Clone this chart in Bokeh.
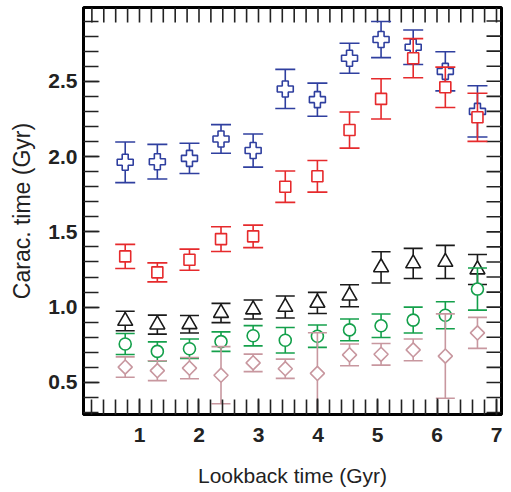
import numpy as np
from bokeh.plotting import figure
from bokeh.models import LinearAxis, SingleIntervalTicker, Range1d, PrintfTickFormatter
from bokeh.embed import file_html
from bokeh.resources import INLINE

# ---- data ----
lookback = [0.76, 1.30, 1.84, 2.37, 2.91, 3.45, 3.99, 4.53, 5.06, 5.60, 6.14, 6.68]

blue_y = [1.962, 1.966, 1.988, 2.117, 2.040, 2.449, 2.378, 2.653, 2.777, 2.726, 2.566, 2.300]
blue_e = [0.135, 0.115, 0.100, 0.095, 0.110, 0.130, 0.110, 0.100, 0.120, 0.115, 0.130, 0.170]

red_y = [1.337, 1.231, 1.315, 1.452, 1.470, 1.800, 1.869, 2.176, 2.383, 2.653, 2.460, 2.261]
red_e = [0.080, 0.063, 0.070, 0.082, 0.075, 0.104, 0.105, 0.120, 0.134, 0.130, 0.134, 0.160]

black_y = [0.908, 0.884, 0.886, 0.961, 0.984, 1.001, 1.028, 1.076, 1.264, 1.290, 1.300, 1.250]
black_e = [0.065, 0.063, 0.058, 0.064, 0.063, 0.073, 0.070, 0.073, 0.104, 0.100, 0.110, 0.100]

green_y = [0.755, 0.706, 0.724, 0.771, 0.810, 0.780, 0.807, 0.849, 0.876, 0.914, 0.946, 1.120]
green_e = [0.070, 0.063, 0.064, 0.065, 0.067, 0.085, 0.074, 0.072, 0.078, 0.086, 0.090, 0.140]

pink_y = [0.602, 0.578, 0.595, 0.548, 0.630, 0.591, 0.560, 0.683, 0.687, 0.716, 0.675, 0.829]
pink_e = [0.068, 0.066, 0.071, 0.190, 0.058, 0.064, 0.270, 0.072, 0.072, 0.072, 0.280, 0.103]

x_label = "Lookback time (Gyr)"
y_label = "Carac. time (Gyr)"

# minor tick positions mirrored on the top and right edges
top_ticks = [0.2, 0.4, 0.6, 0.8, 1.0, 1.2, 1.4, 1.6, 1.8, 2.0, 2.2, 2.4, 2.6, 2.8, 3.0,
             3.2, 3.4, 3.6, 3.8, 4.0, 4.2, 4.4, 4.6, 4.8, 5.0, 5.2, 5.4, 5.6, 5.8, 6.0,
             6.2, 6.4, 6.6, 6.8, 7.0]
right_ticks = [0.3, 0.4, 0.5, 0.6, 0.7, 0.8, 0.9, 1.0, 1.1, 1.2, 1.3, 1.4, 1.5, 1.6,
               1.7, 1.8, 1.9, 2.0, 2.1, 2.2, 2.3, 2.4, 2.5, 2.6, 2.7, 2.8, 2.9]

FONT = "Liberation Sans"
X0, X1 = 0.059, 7.084
Y0, Y1 = 0.287, 2.99

p = figure(frame_width=418, frame_height=407,
           x_range=Range1d(X0, X1), y_range=Range1d(Y0, Y1),
           output_backend="svg", toolbar_location=None,
           min_border_left=83, min_border_right=4, min_border_top=7, min_border_bottom=60,
           x_axis_location=None, y_axis_location=None)
p.grid.visible = False
p.outline_line_color = "black"
p.outline_line_width = 3
p.background_fill_color = "white"
p.border_fill_color = "white"

def make_axis(kind):
    if kind == "x":
        t = SingleIntervalTicker(interval=1, num_minor_ticks=5)
    else:
        t = SingleIntervalTicker(interval=0.5, num_minor_ticks=5)
    ax = LinearAxis(ticker=t)
    ax.axis_line_width = 3
    ax.axis_line_color = "black"
    ax.major_tick_in = 16
    ax.major_tick_out = 0
    ax.minor_tick_in = 15
    ax.minor_tick_out = 0
    ax.major_tick_line_width = 1.6
    ax.minor_tick_line_width = 1.6
    ax.major_tick_line_color = "#222222"
    ax.minor_tick_line_color = "#222222"
    ax.major_label_text_font = FONT
    ax.major_label_text_font_style = "bold"
    ax.major_label_text_font_size = "21px"
    ax.major_label_text_color = "#222222"
    ax.axis_label_text_font = FONT
    ax.axis_label_text_font_style = "normal"
    ax.axis_label_text_color = "#222222"
    return ax

xb = make_axis("x")
xb.axis_label = x_label
xb.axis_label_text_font_size = "21px"
xb.major_label_standoff = 13
xb.axis_label_standoff = 19
p.add_layout(xb, "below")

yl = make_axis("y")
yl.axis_label = y_label
yl.axis_label_text_font_size = "23px"
yl.formatter = PrintfTickFormatter(format="%.1f")
yl.major_label_standoff = 6
yl.axis_label_standoff = 10
p.add_layout(yl, "left")

# mirrored ticks on top and right edges
p.ray(x=top_ticks, y=[Y1] * len(top_ticks), length=15, length_units="screen",
      angle=-np.pi / 2, line_color="#222222", line_width=1.6)
p.ray(x=[X1] * len(right_ticks), y=right_ticks, length=15, length_units="screen",
      angle=np.pi, line_color="#222222", line_width=1.6)

series = [
    (blue_y, blue_e, "#2f3f9f", "plus", 16, 0, 20),
    (red_y, red_e, "#e62a2c", "square", 11, 0, 20),
    (black_y, black_e, "#1a1a1a", "triangle", 15, 0, 19),
    (green_y, green_e, "#14a04b", "circle", 12, 0, 19),
    (pink_y, pink_e, "#c8979f", "square", 10, np.pi / 4, 19),
]

for ys, es, col, mk, sz, ang, cap in series:
    x = np.array(lookback)
    y = np.array(ys)
    e = np.array(es)
    p.segment(x0=x, y0=y - e, x1=x, y1=y + e, line_color=col, line_width=1.6)
    p.scatter(x=x, y=y + e, marker="dash", size=cap, line_color=col, line_width=1.6)
    p.scatter(x=x, y=y - e, marker="dash", size=cap, line_color=col, line_width=1.6)
    p.scatter(x=x, y=y, marker=mk, size=sz, angle=ang, line_color=col,
              fill_color="white", line_width=1.6)

open("out.html", "w").write(file_html(p, INLINE))
